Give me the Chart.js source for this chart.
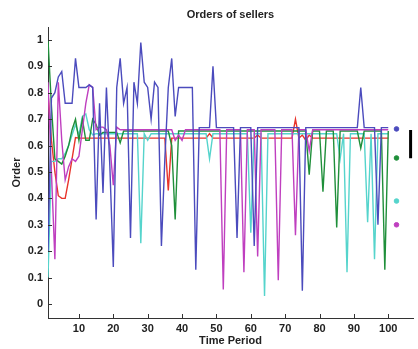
<!DOCTYPE html>
<html>
<head>
<meta charset="utf-8">
<script src="https://cdn.jsdelivr.net/npm/chart.js@4"></script>
<style>
  html, body { margin: 0; padding: 0; background: #fff; }
  #wrap { width: 418px; height: 349px; }
</style>
</head>
<body>
<div id="wrap"><canvas id="orders"></canvas></div>
<script>
// time periods 1..100
const periods = Array.from({length: 100}, (_, i) => i + 1);
const xTicks = [10, 20, 30, 40, 50, 60, 70, 80, 90, 100];
const yTicks = [0, 0.1, 0.2, 0.3, 0.4, 0.5, 0.6, 0.7, 0.8, 0.9, 1];

const seller1 = [ // blue
  0.20, 0.78, 0.80, 0.86, 0.88, 0.76, 0.76, 0.76, 0.93, 0.82,
  0.82, 0.82, 0.83, 0.82, 0.32, 0.76, 0.42, 0.82, 0.52, 0.14,
  0.82, 0.93, 0.76, 0.82, 0.25, 0.84, 0.76, 0.99, 0.84, 0.82,
  0.70, 0.84, 0.82, 0.22, 0.55, 0.82, 0.93, 0.71, 0.82, 0.82,
  0.82, 0.82, 0.82, 0.13, 0.668, 0.668, 0.668, 0.668, 0.90, 0.668,
  0.668, 0.668, 0.668, 0.668, 0.668, 0.25, 0.668, 0.668, 0.668, 0.668,
  0.22, 0.668, 0.668, 0.668, 0.668, 0.668, 0.668, 0.668, 0.668, 0.668,
  0.668, 0.668, 0.668, 0.668, 0.05, 0.668, 0.668, 0.668, 0.668, 0.668,
  0.668, 0.668, 0.668, 0.668, 0.668, 0.668, 0.668, 0.668, 0.668, 0.668,
  0.668, 0.82, 0.668, 0.668, 0.668, 0.668, 0.30, 0.668, 0.668, 0.668
];
const seller2 = [ // green
  1.00, 0.75, 0.55, 0.54, 0.53, 0.56, 0.60, 0.66, 0.70, 0.62,
  0.70, 0.62, 0.62, 0.70, 0.68, 0.64, 0.65, 0.65, 0.65, 0.65,
  0.65, 0.61, 0.655, 0.655, 0.655, 0.655, 0.655, 0.655, 0.655, 0.655,
  0.655, 0.655, 0.655, 0.655, 0.655, 0.655, 0.60, 0.32, 0.655, 0.655,
  0.655, 0.655, 0.655, 0.655, 0.655, 0.655, 0.655, 0.655, 0.655, 0.655,
  0.655, 0.655, 0.655, 0.655, 0.655, 0.655, 0.655, 0.655, 0.655, 0.655,
  0.655, 0.655, 0.655, 0.655, 0.655, 0.655, 0.655, 0.655, 0.655, 0.655,
  0.655, 0.655, 0.655, 0.655, 0.655, 0.655, 0.49, 0.655, 0.655, 0.655,
  0.425, 0.655, 0.655, 0.655, 0.29, 0.655, 0.655, 0.655, 0.655, 0.655,
  0.655, 0.59, 0.655, 0.655, 0.655, 0.655, 0.655, 0.655, 0.13, 0.655
];
const seller3 = [ // cyan
  0.10, 0.54, 0.54, 0.55, 0.55, 0.57, 0.60, 0.64, 0.68, 0.64,
  0.71, 0.72, 0.66, 0.64, 0.645, 0.645, 0.645, 0.645, 0.645, 0.645,
  0.645, 0.645, 0.645, 0.645, 0.645, 0.645, 0.645, 0.23, 0.645, 0.62,
  0.645, 0.645, 0.645, 0.645, 0.645, 0.645, 0.645, 0.645, 0.645, 0.645,
  0.645, 0.645, 0.645, 0.645, 0.645, 0.645, 0.645, 0.55, 0.645, 0.645,
  0.645, 0.645, 0.645, 0.645, 0.645, 0.645, 0.645, 0.645, 0.645, 0.27,
  0.645, 0.645, 0.645, 0.03, 0.645, 0.645, 0.645, 0.645, 0.645, 0.645,
  0.645, 0.645, 0.645, 0.645, 0.645, 0.645, 0.645, 0.645, 0.645, 0.645,
  0.645, 0.645, 0.645, 0.645, 0.645, 0.55, 0.645, 0.12, 0.645, 0.645,
  0.645, 0.645, 0.645, 0.31, 0.645, 0.17, 0.645, 0.645, 0.645, 0.645
];
const seller4 = [ // magenta
  0.84, 0.50, 0.17, 0.84, 0.62, 0.47, 0.52, 0.55, 0.54, 0.56,
  0.66, 0.76, 0.83, 0.82, 0.66, 0.67, 0.67, 0.66, 0.60, 0.45,
  0.67, 0.66, 0.66, 0.66, 0.66, 0.66, 0.66, 0.66, 0.66, 0.66,
  0.66, 0.66, 0.66, 0.66, 0.66, 0.66, 0.66, 0.62, 0.64, 0.62,
  0.66, 0.66, 0.66, 0.66, 0.66, 0.66, 0.66, 0.66, 0.66, 0.66,
  0.66, 0.055, 0.66, 0.66, 0.66, 0.66, 0.66, 0.12, 0.66, 0.66,
  0.66, 0.18, 0.66, 0.66, 0.66, 0.66, 0.66, 0.09, 0.66, 0.66,
  0.66, 0.66, 0.26, 0.66, 0.66, 0.66, 0.58, 0.66, 0.66, 0.66,
  0.66, 0.66, 0.66, 0.66, 0.66, 0.66, 0.66, 0.66, 0.66, 0.66,
  0.66, 0.66, 0.66, 0.66, 0.66, 0.66, 0.66, 0.66, 0.66, 0.66
];
const seller5 = [ // red
  0.80, 0.62, 0.50, 0.41, 0.40, 0.40, 0.47, 0.55, 0.63, 0.628,
  0.628, 0.628, 0.628, 0.628, 0.628, 0.628, 0.628, 0.628, 0.628, 0.628,
  0.628, 0.628, 0.628, 0.628, 0.628, 0.628, 0.628, 0.628, 0.628, 0.628,
  0.628, 0.628, 0.628, 0.628, 0.628, 0.43, 0.628, 0.628, 0.628, 0.628,
  0.628, 0.628, 0.628, 0.628, 0.628, 0.628, 0.628, 0.645, 0.628, 0.628,
  0.628, 0.628, 0.628, 0.628, 0.628, 0.628, 0.628, 0.628, 0.628, 0.628,
  0.628, 0.64, 0.628, 0.628, 0.628, 0.628, 0.628, 0.628, 0.628, 0.628,
  0.628, 0.628, 0.70, 0.628, 0.64, 0.62, 0.64, 0.628, 0.628, 0.628,
  0.628, 0.628, 0.628, 0.628, 0.628, 0.628, 0.628, 0.628, 0.628, 0.628,
  0.628, 0.628, 0.628, 0.628, 0.628, 0.628, 0.628, 0.628, 0.628, 0.628
];

// markers at the right edge
const markerX = 102.4;
const markerY = [0.663, 0.553, 0.39, 0.30];
const markerColors = ['#4b4bbd', '#1f8f3a', '#55d4cc', '#bf3fbf'];
const barX = 106.5;
const barY = [0.552, 0.659];

const pts = arr => arr.map((v, i) => ({x: periods[i], y: v}));

function line(data, color) {
  return {
    type: 'line',
    data: pts(data),
    borderColor: color,
    borderWidth: 1.4,
    pointRadius: 0,
    tension: 0,
    fill: false
  };
}

// inward tick marks, matlab style
const insideTicks = {
  id: 'insideTicks',
  afterDraw(chart) {
    const ctx = chart.ctx;
    const xs = chart.scales.x, ys = chart.scales.y;
    const a = chart.chartArea;
    ctx.save();
    ctx.strokeStyle = '#333';
    ctx.lineWidth = 1;
    ctx.beginPath();
    xTicks.forEach(v => {
      const px = Math.round(xs.getPixelForValue(v)) + 0.5;
      ctx.moveTo(px, a.bottom);
      ctx.lineTo(px, a.bottom - 4);
    });
    yTicks.forEach(v => {
      const py = Math.round(ys.getPixelForValue(v)) + 0.5;
      ctx.moveTo(a.left, py);
      ctx.lineTo(a.left + 4, py);
    });
    ctx.stroke();
    ctx.restore();
  }
};

const font = {family: 'Liberation Sans, Arial, sans-serif', size: 11, weight: 'bold'};

new Chart(document.getElementById('orders'), {
  type: 'line',
  data: {
    datasets: [
      line(seller1, '#4b4bbd'),
      line(seller4, '#bf3fbf'),
      line(seller2, '#1f8f3a'),
      line(seller3, '#55d4cc'),
      line(seller5, '#e8342c'),
      {
        type: 'scatter',
        data: markerY.map(v => ({x: markerX, y: v})),
        pointRadius: 2.3,
        pointBackgroundColor: markerColors,
        pointBorderColor: markerColors,
        showLine: false
      },
      {
        type: 'line',
        data: barY.map(v => ({x: barX, y: v})),
        borderColor: '#000',
        borderWidth: 3,
        pointRadius: 0
      }
    ]
  },
  options: {
    responsive: true,
    maintainAspectRatio: false,
    animation: false,
    layout: { padding: {left: 0, right: 5, top: 0, bottom: 0} },
    plugins: {
      legend: { display: false },
      tooltip: { enabled: false },
      title: {
        display: true,
        text: 'Orders of sellers',
        color: '#222',
        fullSize: false,
        font: {family: font.family, size: 11, weight: 'bold', lineHeight: 1.2},
        padding: {top: 8, bottom: 5.8}
      }
    },
    scales: {
      x: {
        type: 'linear',
        min: 1,
        max: 107.2,
        afterBuildTicks: axis => { axis.ticks = xTicks.map(v => ({value: v})); },
        afterFit: s => { s.height = 31; },
        grid: { display: false, drawTicks: false },
        border: { display: true, color: '#333', width: 1 },
        ticks: { font: font, color: '#222', padding: 4, maxRotation: 0, autoSkip: false },
        title: {
          display: true,
          text: 'Time Period',
          color: '#222',
          font: font,
          padding: {top: 0, bottom: 1}
        }
      },
      y: {
        min: -0.053,
        max: 1.049,
        afterBuildTicks: axis => { axis.ticks = yTicks.map(v => ({value: v})); },
        afterFit: s => { s.width = 48; },
        grid: { display: false, drawTicks: false },
        border: { display: true, color: '#333', width: 1 },
        ticks: {
          font: font, color: '#222', padding: 5, autoSkip: false,
          callback: v => String(Math.round(v * 10) / 10)
        },
        title: {
          display: true,
          text: 'Order',
          color: '#222',
          font: font,
          padding: {top: 10, bottom: 0}
        }
      }
    }
  },
  plugins: [insideTicks]
});
</script>
</body>
</html>
